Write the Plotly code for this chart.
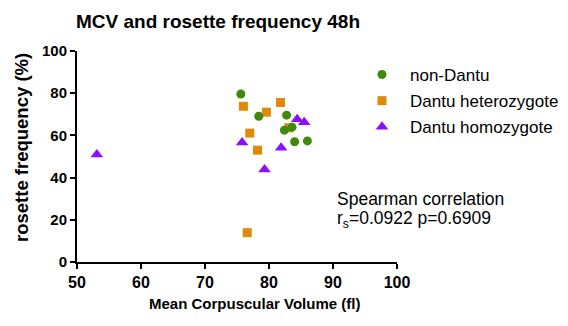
import plotly.graph_objects as go

# Data
non_dantu_mcv = [75.6, 78.4, 82.75, 82.4, 83.6, 84.0, 86.0]
non_dantu_ros = [79.6, 69.1, 69.6, 62.5, 63.9, 57.0, 57.4]

het_mcv = [76.0, 79.6, 81.8, 77.0, 78.2, 83.1, 76.6]
het_ros = [73.8, 71.0, 75.6, 61.1, 53.0, 63.6, 13.9]

hom_mcv = [53.1, 75.8, 81.9, 79.3, 84.4, 85.5]
hom_ros = [51.0, 56.6, 54.1, 43.8, 67.7, 66.2]

series_names = ["non-Dantu", "Dantu heterozygote", "Dantu homozygote"]
x_ticks = [50, 60, 70, 80, 90, 100]
y_ticks = [0, 20, 40, 60, 80, 100]

FONT = "Liberation Sans, Arial, sans-serif"
L, R, T, B = 77, 171, 51, 64
PW, PH = 568 - L - R, 326 - T - B

fig = go.Figure()
fig.add_trace(go.Scatter(x=het_mcv, y=het_ros, mode="markers", name=series_names[1],
                         legendgroup="b", legendrank=2,
                         marker=dict(symbol="square", size=9, color="#e08a0c")))
fig.add_trace(go.Scatter(x=non_dantu_mcv, y=non_dantu_ros, mode="markers", name=series_names[0],
                         legendgroup="a", legendrank=1,
                         marker=dict(symbol="circle", size=9, color="#3f8a0c")))
fig.add_trace(go.Scatter(x=hom_mcv, y=hom_ros, mode="markers", name=series_names[2],
                         legendgroup="c", legendrank=3,
                         marker=dict(symbol="triangle-up", size=11, color="#8a10ff")))

axis_common = dict(showline=True, linecolor="black", linewidth=2, ticks="outside",
                   ticklen=5, tickwidth=2, tickcolor="black", showgrid=False,
                   zeroline=False, mirror=False)

fig.update_layout(
    width=568, height=326,
    margin=dict(l=L, r=R, t=T, b=B, autoexpand=False),
    paper_bgcolor="white", plot_bgcolor="white",
    font=dict(family=FONT, color="black"),
    title=dict(text="<b>MCV and rosette frequency 48h</b>", x=218 / 568, xanchor="center",
               y=1 - 21 / 326, yanchor="middle", font=dict(size=19, family=FONT)),
    xaxis=dict(range=[50, 100], tickvals=x_ticks, **axis_common,
               tickfont=dict(size=16, family=FONT, weight="bold")),
    yaxis=dict(range=[0, 100], tickvals=y_ticks, **axis_common,
               tickfont=dict(size=15, family=FONT, weight="bold")),
    legend=dict(x=(354 - L) / PW, y=(326 - B - 57) / PH, xanchor="left", yanchor="top",
                font=dict(size=17), itemwidth=46,
                traceorder="grouped", tracegroupgap=1, bgcolor="rgba(0,0,0,0)"),
    showlegend=True,
)

fig.add_annotation(xref="paper", yref="paper", x=(254 - L) / PW, y=-(303 - (326 - B)) / PH,
                   xanchor="center", yanchor="middle", showarrow=False,
                   text="<b>Mean Corpuscular Volume (fl)</b>", font=dict(size=15))
fig.add_annotation(xref="paper", yref="paper", x=-(L - 21) / PW, y=(326 - B - 148) / PH,
                   xanchor="center", yanchor="middle", showarrow=False, textangle=-90,
                   text="<b>rosette frequency (%)</b>", font=dict(size=18.5))
fig.add_annotation(xref="paper", yref="paper", x=(335 - L) / PW, y=(326 - B - 199) / PH,
                   xanchor="left", yanchor="middle", showarrow=False,
                   text="Spearman correlation", font=dict(size=17.5))
fig.add_annotation(xref="paper", yref="paper", x=(335 - L) / PW, y=(326 - B - 219) / PH,
                   xanchor="left", yanchor="middle", showarrow=False,
                   text="r<sub>s</sub>=0.0922 p=0.6909", font=dict(size=17.5))

fig.write_html("out.html")
